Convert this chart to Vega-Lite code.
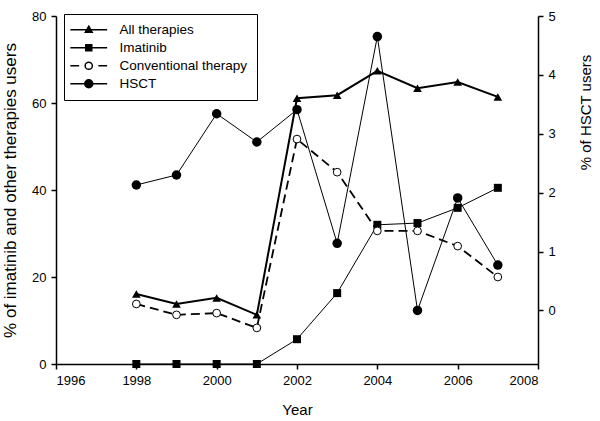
{
  "$schema": "https://vega.github.io/schema/vega-lite/v6.json",
  "width": 482,
  "height": 348,
  "autosize": "none",
  "padding": {"left": 56, "top": 16, "right": 62, "bottom": 57},
  "background": "white",
  "config": {
    "view": {"stroke": null},
    "font": "Liberation Sans",
    "axis": {
      "grid": false,
      "domainColor": "black",
      "domainWidth": 1.5,
      "tickColor": "black",
      "tickWidth": 1.5,
      "tickSize": 5,
      "labelColor": "black",
      "labelFont": "Liberation Sans",
      "labelFontSize": 13,
      "labelPadding": 5,
      "titleColor": "black",
      "titleFont": "Liberation Sans",
      "titleFontSize": 15,
      "titleFontWeight": "normal"
    }
  },
  "datasets": {
    "d": [
      {"year": 1998, "series": "All therapies", "value": 16.1},
      {"year": 1999, "series": "All therapies", "value": 13.8},
      {"year": 2000, "series": "All therapies", "value": 15.2},
      {"year": 2001, "series": "All therapies", "value": 11.3},
      {"year": 2002, "series": "All therapies", "value": 61.1},
      {"year": 2003, "series": "All therapies", "value": 61.8},
      {"year": 2004, "series": "All therapies", "value": 67.4},
      {"year": 2005, "series": "All therapies", "value": 63.4},
      {"year": 2006, "series": "All therapies", "value": 64.8},
      {"year": 2007, "series": "All therapies", "value": 61.4},
      {"year": 1998, "series": "Imatinib", "value": 0},
      {"year": 1999, "series": "Imatinib", "value": 0},
      {"year": 2000, "series": "Imatinib", "value": 0},
      {"year": 2001, "series": "Imatinib", "value": 0},
      {"year": 2002, "series": "Imatinib", "value": 5.7},
      {"year": 2003, "series": "Imatinib", "value": 16.3},
      {"year": 2004, "series": "Imatinib", "value": 32.0},
      {"year": 2005, "series": "Imatinib", "value": 32.4},
      {"year": 2006, "series": "Imatinib", "value": 35.9},
      {"year": 2007, "series": "Imatinib", "value": 40.5},
      {"year": 1998, "series": "Conventional therapy", "value": 13.8},
      {"year": 1999, "series": "Conventional therapy", "value": 11.3},
      {"year": 2000, "series": "Conventional therapy", "value": 11.7},
      {"year": 2001, "series": "Conventional therapy", "value": 8.3},
      {"year": 2002, "series": "Conventional therapy", "value": 51.7},
      {"year": 2003, "series": "Conventional therapy", "value": 44.1},
      {"year": 2004, "series": "Conventional therapy", "value": 30.6},
      {"year": 2005, "series": "Conventional therapy", "value": 30.6},
      {"year": 2006, "series": "Conventional therapy", "value": 27.1},
      {"year": 2007, "series": "Conventional therapy", "value": 20.0},
      {"year": 1998, "series": "HSCT", "value": 2.13},
      {"year": 1999, "series": "HSCT", "value": 2.30},
      {"year": 2000, "series": "HSCT", "value": 3.34},
      {"year": 2001, "series": "HSCT", "value": 2.86},
      {"year": 2002, "series": "HSCT", "value": 3.41},
      {"year": 2003, "series": "HSCT", "value": 1.14},
      {"year": 2004, "series": "HSCT", "value": 4.65},
      {"year": 2005, "series": "HSCT", "value": 0.0},
      {"year": 2006, "series": "HSCT", "value": 1.91},
      {"year": 2007, "series": "HSCT", "value": 0.77}
    ]
  },
  "data": {"name": "d"},
  "encoding": {
    "x": {
      "field": "year",
      "type": "quantitative",
      "scale": {"domain": [1996, 2008], "nice": false, "zero": false},
      "axis": {"title": "Year", "values": [1996, 1998, 2000, 2002, 2004, 2006, 2008], "format": "d", "titlePadding": 15}
    }
  },
  "layer": [
    {
      "encoding": {
        "y": {
          "field": "value",
          "type": "quantitative",
          "scale": {"domain": [0, 80], "nice": false},
          "axis": {"orient": "left", "title": "% of imatinib and other therapies users", "values": [0, 20, 40, 60, 80], "titlePadding": 12, "titleFontSize": 17}
        }
      },
      "layer": [
        {
          "transform": [{"filter": "datum.series === 'Imatinib'"}],
          "mark": {"type": "line", "color": "black", "strokeWidth": 1}
        },
        {
          "transform": [{"filter": "datum.series === 'Conventional therapy'"}],
          "mark": {"type": "line", "color": "black", "strokeWidth": 1.8, "strokeDash": [9, 5]}
        },
        {
          "transform": [{"filter": "datum.series === 'All therapies'"}],
          "mark": {"type": "line", "color": "black", "strokeWidth": 2}
        },
        {
          "transform": [{"filter": "datum.series === 'Imatinib'"}],
          "mark": {"type": "point", "shape": "square", "filled": true, "color": "black", "opacity": 1, "size": 64}
        },
        {
          "transform": [{"filter": "datum.series === 'Conventional therapy'"}],
          "mark": {"type": "point", "shape": "circle", "fill": "white", "stroke": "black", "strokeWidth": 1, "opacity": 1, "size": 60}
        },
        {
          "transform": [{"filter": "datum.series === 'All therapies'"}],
          "mark": {"type": "point", "shape": "triangle-up", "filled": true, "color": "black", "opacity": 1, "size": 75}
        },
        {
          "transform": [{"filter": "datum.year < 0"}],
          "mark": {"type": "point", "stroke": "black", "strokeWidth": 1.3, "opacity": 1},
          "encoding": {
            "shape": {
              "field": "series",
              "type": "nominal",
              "scale": {
                "domain": ["All therapies", "Imatinib", "Conventional therapy", "HSCT"],
                "range": [
                  "M-4.6,0H4.6M0,-0.9L0.85,0.6H-0.85Z",
                  "M-4.6,0H4.6M-0.75,-0.75H0.75V0.75H-0.75Z",
                  "M-4.6,0H-2.4M2.4,0H4.6M0.9,0A0.9,0.9,0,1,1,-0.9,0A0.9,0.9,0,1,1,0.9,0Z",
                  "M-4.6,0H4.6M1,0A1,1,0,1,1,-1,0A1,1,0,1,1,1,0Z"
                ]
              },
              "legend": {
                "title": null,
                "orient": "none",
                "legendX": 8,
                "legendY": -2,
                "strokeColor": "black",
                "fillColor": "white",
                "padding": 9,
                "symbolSize": 64,
                "symbolOffset": 9,
                "labelOffset": 24,
                "labelFont": "Liberation Sans",
                "labelFontSize": 13.5,
                "labelColor": "black",
                "labelLimit": 300,
                "rowPadding": 3
              }
            },
            "fill": {
              "field": "series",
              "type": "nominal",
              "scale": {
                "domain": ["All therapies", "Imatinib", "Conventional therapy", "HSCT"],
                "range": ["black", "black", "white", "black"]
              }
            }
          }
        }
      ]
    },
    {
      "transform": [{"filter": "datum.series === 'HSCT'"}],
      "encoding": {
        "y": {
          "field": "value",
          "type": "quantitative",
          "scale": {"domain": [-0.91, 5], "nice": false, "zero": false},
          "axis": {"orient": "right", "title": "% of HSCT users", "values": [0, 1, 2, 3, 4, 5], "titlePadding": 38, "titleAngle": 270, "titleY": 96}
        }
      },
      "layer": [
        {"mark": {"type": "line", "color": "black", "strokeWidth": 1}},
        {"mark": {"type": "point", "shape": "circle", "filled": true, "color": "black", "opacity": 1, "size": 90}}
      ]
    }
  ],
  "resolve": {"scale": {"y": "independent"}}
}
